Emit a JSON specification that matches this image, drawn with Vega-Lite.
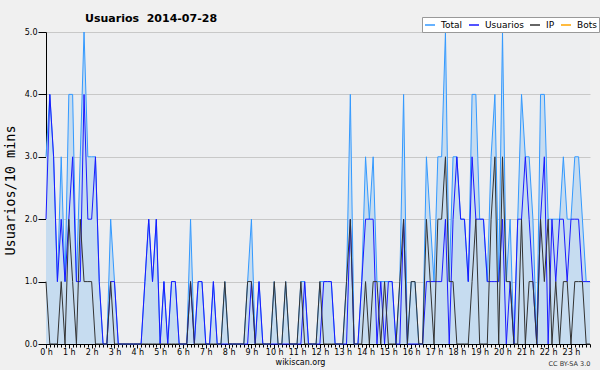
{
  "$schema": "https://vega.github.io/schema/vega-lite/v6.json",
  "width": 544,
  "height": 312,
  "autosize": {"type": "none"},
  "padding": {"left": 46, "top": 32, "right": 10, "bottom": 26},
  "background": "#f0f0f0",
  "title": {"text": "Usuarios\u00a0 2014-07-28", "anchor": "start", "frame": "group", "dx": 39, "dy": 17, "offset": 10, "font": "DejaVu Sans", "fontSize": 11, "fontWeight": "bold", "color": "#000000"},
  "config": {
    "view": {"stroke": null, "fill": "#edeef0"},
    "axis": {"labelFont": "DejaVu Sans", "labelFontSize": 8, "labelColor": "#000000", "titleFont": "DejaVu Sans", "titleColor": "#000000", "titleFontWeight": "normal", "domainColor": "#000000", "tickColor": "#000000", "labelOverlap": false, "labelFlush": false}
  },
  "data": {"values": [
    {"m":0,"Total":3,"Usuarios":2,"IP":1},{"m":10,"Total":4,"Usuarios":4,"IP":0},{"m":20,"Total":3,"Usuarios":3,"IP":0},{"m":30,"Total":1,"Usuarios":1,"IP":0},
    {"m":40,"Total":3,"Usuarios":2,"IP":1},{"m":50,"Total":1,"Usuarios":1,"IP":0},{"m":60,"Total":4,"Usuarios":2,"IP":2},{"m":70,"Total":4,"Usuarios":3,"IP":1},
    {"m":80,"Total":1,"Usuarios":1,"IP":0},{"m":90,"Total":3,"Usuarios":1,"IP":2},{"m":100,"Total":5,"Usuarios":4,"IP":1},{"m":110,"Total":3,"Usuarios":2,"IP":1},
    {"m":120,"Total":3,"Usuarios":2,"IP":1},{"m":130,"Total":3,"Usuarios":3,"IP":0},{"m":140,"Total":1,"Usuarios":1,"IP":0},{"m":150,"Total":0,"Usuarios":0,"IP":0},
    {"m":160,"Total":0,"Usuarios":0,"IP":0},{"m":170,"Total":2,"Usuarios":1,"IP":1},{"m":180,"Total":1,"Usuarios":1,"IP":0},{"m":190,"Total":0,"Usuarios":0,"IP":0},
    {"m":200,"Total":0,"Usuarios":0,"IP":0},{"m":210,"Total":0,"Usuarios":0,"IP":0},{"m":220,"Total":0,"Usuarios":0,"IP":0},{"m":230,"Total":0,"Usuarios":0,"IP":0},
    {"m":240,"Total":0,"Usuarios":0,"IP":0},{"m":250,"Total":0,"Usuarios":0,"IP":0},{"m":260,"Total":1,"Usuarios":1,"IP":0},{"m":270,"Total":2,"Usuarios":2,"IP":0},
    {"m":280,"Total":1,"Usuarios":1,"IP":0},{"m":290,"Total":2,"Usuarios":2,"IP":0},{"m":300,"Total":0,"Usuarios":0,"IP":0},{"m":310,"Total":1,"Usuarios":1,"IP":0},
    {"m":320,"Total":0,"Usuarios":0,"IP":0},{"m":330,"Total":1,"Usuarios":1,"IP":0},{"m":340,"Total":1,"Usuarios":1,"IP":0},{"m":350,"Total":0,"Usuarios":0,"IP":0},
    {"m":360,"Total":0,"Usuarios":0,"IP":0},{"m":370,"Total":0,"Usuarios":0,"IP":0},{"m":380,"Total":2,"Usuarios":1,"IP":1},{"m":390,"Total":0,"Usuarios":0,"IP":0},
    {"m":400,"Total":1,"Usuarios":1,"IP":0},{"m":410,"Total":1,"Usuarios":1,"IP":0},{"m":420,"Total":0,"Usuarios":0,"IP":0},{"m":430,"Total":0,"Usuarios":0,"IP":0},
    {"m":440,"Total":1,"Usuarios":1,"IP":0},{"m":450,"Total":0,"Usuarios":0,"IP":0},{"m":460,"Total":0,"Usuarios":0,"IP":0},{"m":470,"Total":1,"Usuarios":0,"IP":1},
    {"m":480,"Total":0,"Usuarios":0,"IP":0},{"m":490,"Total":0,"Usuarios":0,"IP":0},{"m":500,"Total":0,"Usuarios":0,"IP":0},{"m":510,"Total":0,"Usuarios":0,"IP":0},
    {"m":520,"Total":0,"Usuarios":0,"IP":0},{"m":530,"Total":1,"Usuarios":0,"IP":1},{"m":540,"Total":2,"Usuarios":1,"IP":1},{"m":550,"Total":0,"Usuarios":0,"IP":0},
    {"m":560,"Total":1,"Usuarios":1,"IP":0},{"m":570,"Total":0,"Usuarios":0,"IP":0},{"m":580,"Total":0,"Usuarios":0,"IP":0},{"m":590,"Total":0,"Usuarios":0,"IP":0},
    {"m":600,"Total":1,"Usuarios":0,"IP":1},{"m":610,"Total":0,"Usuarios":0,"IP":0},{"m":620,"Total":0,"Usuarios":0,"IP":0},{"m":630,"Total":1,"Usuarios":0,"IP":1},
    {"m":640,"Total":0,"Usuarios":0,"IP":0},{"m":650,"Total":0,"Usuarios":0,"IP":0},{"m":660,"Total":0,"Usuarios":0,"IP":0},{"m":670,"Total":1,"Usuarios":0,"IP":1},
    {"m":680,"Total":1,"Usuarios":1,"IP":0},{"m":690,"Total":0,"Usuarios":0,"IP":0},{"m":700,"Total":0,"Usuarios":0,"IP":0},{"m":710,"Total":0,"Usuarios":0,"IP":0},
    {"m":720,"Total":1,"Usuarios":0,"IP":1},{"m":730,"Total":1,"Usuarios":1,"IP":0},{"m":740,"Total":1,"Usuarios":1,"IP":0},{"m":750,"Total":1,"Usuarios":1,"IP":0},
    {"m":760,"Total":0,"Usuarios":0,"IP":0},{"m":770,"Total":0,"Usuarios":0,"IP":0},{"m":780,"Total":0,"Usuarios":0,"IP":0},{"m":790,"Total":1,"Usuarios":0,"IP":1},
    {"m":800,"Total":4,"Usuarios":2,"IP":2},{"m":810,"Total":0,"Usuarios":0,"IP":0},{"m":820,"Total":0,"Usuarios":0,"IP":0},{"m":830,"Total":1,"Usuarios":1,"IP":0},
    {"m":840,"Total":3,"Usuarios":2,"IP":1},{"m":850,"Total":2,"Usuarios":2,"IP":0},{"m":860,"Total":3,"Usuarios":2,"IP":1},{"m":870,"Total":1,"Usuarios":0,"IP":1},
    {"m":880,"Total":1,"Usuarios":1,"IP":0},{"m":890,"Total":1,"Usuarios":0,"IP":1},{"m":900,"Total":1,"Usuarios":1,"IP":0},{"m":910,"Total":1,"Usuarios":1,"IP":0},
    {"m":920,"Total":0,"Usuarios":0,"IP":0},{"m":930,"Total":1,"Usuarios":0,"IP":1},{"m":940,"Total":4,"Usuarios":2,"IP":2},{"m":950,"Total":0,"Usuarios":0,"IP":0},
    {"m":960,"Total":1,"Usuarios":0,"IP":1},{"m":970,"Total":1,"Usuarios":0,"IP":1},{"m":980,"Total":0,"Usuarios":0,"IP":0},{"m":990,"Total":0,"Usuarios":0,"IP":0},
    {"m":1000,"Total":3,"Usuarios":1,"IP":2},{"m":1010,"Total":2,"Usuarios":1,"IP":1},{"m":1020,"Total":1,"Usuarios":1,"IP":0},{"m":1030,"Total":3,"Usuarios":1,"IP":2},
    {"m":1040,"Total":3,"Usuarios":1,"IP":2},{"m":1050,"Total":5,"Usuarios":2,"IP":3},{"m":1060,"Total":1,"Usuarios":0,"IP":1},{"m":1070,"Total":3,"Usuarios":2,"IP":1},
    {"m":1080,"Total":3,"Usuarios":3,"IP":0},{"m":1090,"Total":2,"Usuarios":2,"IP":0},{"m":1100,"Total":2,"Usuarios":2,"IP":0},{"m":1110,"Total":1,"Usuarios":1,"IP":0},
    {"m":1120,"Total":4,"Usuarios":3,"IP":1},{"m":1130,"Total":4,"Usuarios":2,"IP":2},{"m":1140,"Total":2,"Usuarios":2,"IP":0},{"m":1150,"Total":2,"Usuarios":2,"IP":0},
    {"m":1160,"Total":1,"Usuarios":1,"IP":0},{"m":1170,"Total":3,"Usuarios":1,"IP":2},{"m":1180,"Total":4,"Usuarios":1,"IP":3},{"m":1190,"Total":1,"Usuarios":1,"IP":0},
    {"m":1200,"Total":5,"Usuarios":2,"IP":3},{"m":1210,"Total":1,"Usuarios":0,"IP":1},{"m":1220,"Total":2,"Usuarios":1,"IP":1},{"m":1230,"Total":0,"Usuarios":0,"IP":0},
    {"m":1240,"Total":2,"Usuarios":2,"IP":0},{"m":1250,"Total":4,"Usuarios":2,"IP":2},{"m":1260,"Total":3,"Usuarios":3,"IP":0},{"m":1270,"Total":3,"Usuarios":2,"IP":1},
    {"m":1280,"Total":2,"Usuarios":1,"IP":1},{"m":1290,"Total":0,"Usuarios":0,"IP":0},{"m":1300,"Total":4,"Usuarios":2,"IP":2},{"m":1310,"Total":4,"Usuarios":3,"IP":1},
    {"m":1320,"Total":2,"Usuarios":0,"IP":2},{"m":1330,"Total":2,"Usuarios":2,"IP":0},{"m":1340,"Total":2,"Usuarios":1,"IP":1},{"m":1350,"Total":2,"Usuarios":2,"IP":0},
    {"m":1360,"Total":3,"Usuarios":2,"IP":1},{"m":1370,"Total":2,"Usuarios":1,"IP":1},{"m":1380,"Total":2,"Usuarios":2,"IP":0},{"m":1390,"Total":3,"Usuarios":2,"IP":1},
    {"m":1400,"Total":3,"Usuarios":2,"IP":1},{"m":1410,"Total":2,"Usuarios":1,"IP":1},{"m":1420,"Total":1,"Usuarios":1,"IP":0},{"m":1430,"Total":1,"Usuarios":1,"IP":0}
  ]},
  "layer": [
    {
      "encoding": {
        "x": {"field": "m", "type": "quantitative", "scale": {"domain": [0, 1430], "nice": false, "zero": false},
          "axis": {
            "values": [0,10,20,30,40,50,60,70,80,90,100,110,120,130,140,150,160,170,180,190,200,210,220,230,240,250,260,270,280,290,300,310,320,330,340,350,360,370,380,390,400,410,420,430,440,450,460,470,480,490,500,510,520,530,540,550,560,570,580,590,600,610,620,630,640,650,660,670,680,690,700,710,720,730,740,750,760,770,780,790,800,810,820,830,840,850,860,870,880,890,900,910,920,930,940,950,960,970,980,990,1000,1010,1020,1030,1040,1050,1060,1070,1080,1090,1100,1110,1120,1130,1140,1150,1160,1170,1180,1190,1200,1210,1220,1230,1240,1250,1260,1270,1280,1290,1300,1310,1320,1330,1340,1350,1360,1370,1380,1390,1400,1410,1420,1430],
            "labelExpr": "datum.value % 60 === 0 ? (datum.value / 60) + ' h' : ''",
            "tickSize": {"condition": {"test": "datum.value % 60 === 0", "value": 4}, "value": 3},
            "grid": false,
            "labelPadding": 0,
            "title": "wikiscan.org",
            "titleFontSize": 8,
            "titleX": 254,
            "titleY": 18,
            "titleAlign": "center",
            "titleBaseline": "middle"
          }
        }
      },
      "layer": [
        {
          "mark": {"type": "area", "color": "#c6dcf0", "interpolate": "linear"},
          "encoding": {
            "y": {"field": "Total", "type": "quantitative", "scale": {"domain": [0, 5], "nice": false},
              "axis": {
                "values": [0,0.25,0.5,0.75,1,1.25,1.5,1.75,2,2.25,2.5,2.75,3,3.25,3.5,3.75,4,4.25,4.5,4.75,5],
                "labelExpr": "datum.value % 1 === 0 ? format(datum.value, '.1f') : ''",
                "tickSize": {"condition": {"test": "datum.value % 1 === 0", "value": 8}, "value": 4},
                "grid": true,
                "gridColor": "#c8c8c8",
                "gridOpacity": {"condition": {"test": "datum.value % 1 === 0 && datum.value > 0", "value": 1}, "value": 0},
                "labelPadding": 1,
                "title": "Usuarios/10 mins",
                "titleFont": "DejaVu Sans Mono",
                "titleFontSize": 13.5,
                "titleAngle": 270,
                "titleX": -36,
                "titleY": 158,
                "titleAlign": "center",
                "titleBaseline": "middle"
              }
            }
          }
        },
        {
          "mark": {"type": "line", "strokeWidth": 1},
          "encoding": {
            "y": {"field": "Total", "type": "quantitative"},
            "color": {"datum": "Total", "type": "nominal",
              "scale": {"domain": ["Total", "Usuarios", "IP", "Bots"], "range": ["#3399ff", "#1a1aff", "#333333", "#ffa500"]},
              "legend": {"orient": "none", "legendX": 376, "legendY": -15, "direction": "horizontal", "title": null,
                "fillColor": "#ffffff", "strokeColor": "#999999", "padding": 2,
                "labelFont": "DejaVu Sans", "labelFontSize": 9, "labelColor": "#000000",
                "symbolType": "stroke", "symbolSize": 100, "symbolStrokeWidth": 1.5, "columnPadding": 3, "labelOffset": 5}
            }
          }
        },
        {
          "mark": {"type": "line", "strokeWidth": 1},
          "encoding": {
            "y": {"field": "Usuarios", "type": "quantitative"},
            "color": {"datum": "Usuarios", "type": "nominal"}
          }
        },
        {
          "mark": {"type": "line", "strokeWidth": 1},
          "encoding": {
            "y": {"field": "IP", "type": "quantitative"},
            "color": {"datum": "IP", "type": "nominal"}
          }
        }
      ]
    },
    {
      "mark": {"type": "rule", "opacity": 0},
      "encoding": {
        "y": {"datum": 0, "type": "quantitative", "scale": {"domain": [0, 5]},
          "axis": {"orient": "right", "domain": false, "ticks": false, "labels": false, "grid": false,
            "title": "CC BY-SA 3.0", "titleAngle": 0, "titleX": -21, "titleY": 331, "titleFontSize": 6.5,
            "titleAlign": "center", "titleBaseline": "middle", "titleColor": "#333333"}
        }
      }
    }
  ],
  "resolve": {"scale": {"y": "independent"}}
}
